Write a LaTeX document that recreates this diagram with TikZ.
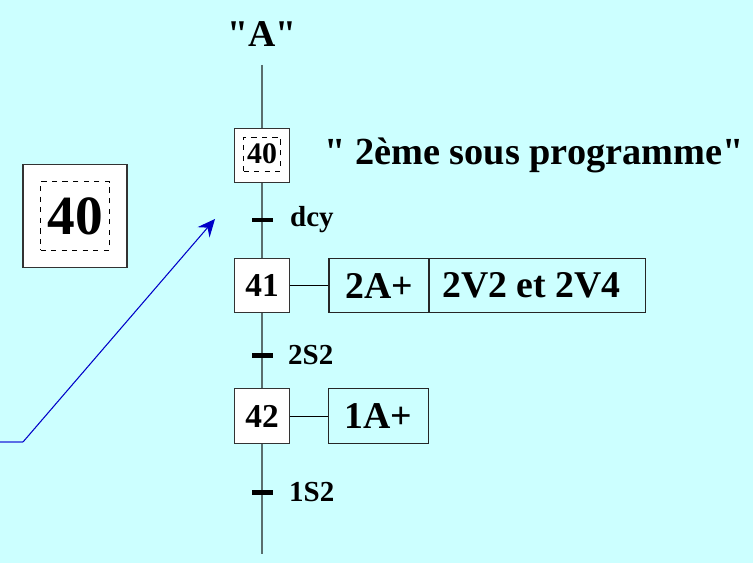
\documentclass[tikz,border=0pt]{standalone}
\usepackage{fontspec}
\setmainfont{Liberation Serif}[Ligatures=TeXOff]
\usetikzlibrary{arrows.meta,positioning}

\definecolor{fond}{RGB}{204,255,255}
\definecolor{trait}{RGB}{90,110,110}
\definecolor{bleuA}{RGB}{90,110,230}
\definecolor{bleuB}{RGB}{0,0,200}

\tikzset{
  etape/.style={rectangle,draw=black!80,fill=white,line width=0.6pt,minimum width=1.1cm,minimum height=1.09cm,inner sep=0pt,font=\bfseries\fontsize{19}{21}\selectfont},
  pointille/.style={rectangle,draw,dashed,line width=0.4pt,inner sep=0pt},
  action/.style={rectangle,draw=black!85,line width=0.6pt,minimum height=1.09cm,inner sep=0pt,font=\bfseries\fontsize{21.5}{24}\selectfont},
  recept/.style={rectangle,fill=black,minimum width=0.42cm,minimum height=0.085cm,inner sep=0pt},
  condition/.style={inner sep=0pt,anchor=west,font=\bfseries\fontsize{16.5}{18}\selectfont},
  liaison/.style={draw=trait,line width=0.6pt}
}

\begin{document}
\begin{tikzpicture}[x=0.02cm,y=-0.02cm]
\fill[fond] (0,0) rectangle (753,563);
\useasboundingbox (0,0) rectangle (753,563);

% Title and main line
\node[font=\bfseries\fontsize{21.5}{24}\selectfont] (titre) at (262,34) {"A"};
\coordinate (haut) at (262,65);
\coordinate (bas) at (262,554);
\draw[liaison] (haut) -- (bas);

% Step 40 (macro step)
\node[etape] (e40) at (262,155.5) {};
\node[pointille,minimum width=0.74cm,minimum height=0.68cm,font=\bfseries\fontsize{17}{19}\selectfont] (n40) at (262,154) {40};
\node[anchor=west,inner sep=0pt,font=\bfseries\fontsize{21.8}{24}\selectfont] (nom) at (324,155) {" 2ème sous programme"};

% Transition dcy
\node[recept] (t1) at (262,220) {};
\node[condition,right=0.34cm of t1.east] (c1) {dcy};

% Step 41
\node[etape] (e41) at (262,285.5) {41};
\node[action,minimum width=2cm] (a41) at (379,285.5) {2A+};
\node[action,minimum width=4.33cm] (b41) at (537.5,285.5) {\hspace*{-7pt}2V2 et 2V4};
\draw (e41) -- (a41);

% Transition 2S2
\node[recept] (t2) at (262,355.5) {};
\node[condition,right=0.3cm of t2.east] (c2) {2S2};

% Step 42
\node[etape] (e42) at (262,416) {42};
\node[action,minimum width=2.01cm] (a42) at (378.5,416) {1A+};
\draw (e42) -- (a42);

% Transition 1S2
\node[recept] (t3) at (262,492.5) {};
\node[condition,right=0.32cm of t3.east] (c3) {1S2};

% Enlarged step 40
\node[etape,minimum width=2.08cm,minimum height=2.07cm] (g40) at (75,216) {};
\node[pointille,minimum width=1.38cm,minimum height=1.37cm,font=\bfseries\fontsize{31.5}{34}\selectfont] (m40) at (75,216) {40};

% Pointer arrow
\coordinate (depart) at (0,442);
\coordinate (coude) at (23,442);
\coordinate (pointe) at (215,219);
\draw[bleuA,line width=1pt] (depart) -- (coude);
\draw[bleuB,line width=0.6pt,-{Stealth[length=10pt,width=9pt,inset=3.5pt]}] (coude) -- (pointe);
\end{tikzpicture}
\end{document}
